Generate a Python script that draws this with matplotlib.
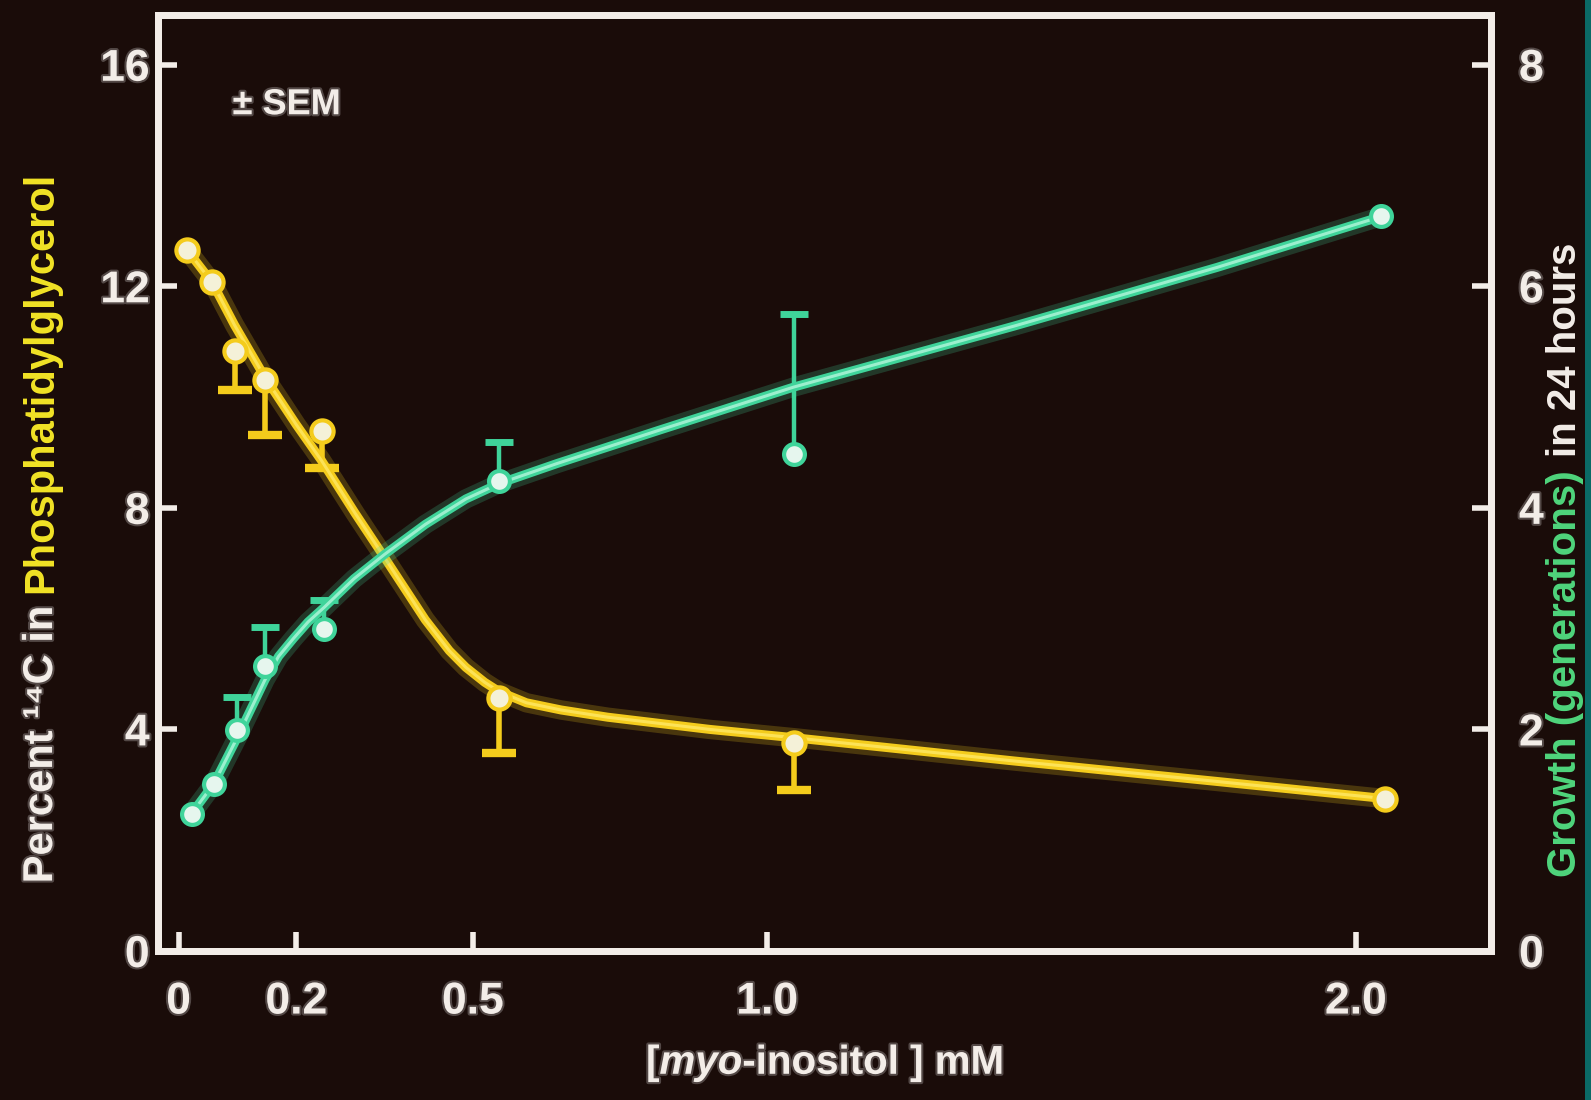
import numpy as np
import matplotlib
matplotlib.use("Agg")
import matplotlib.pyplot as plt
import matplotlib.patheffects as pe
from matplotlib.patches import Rectangle

# [myo-inositol] mM for each measurement
pg_conc = [0.014, 0.057, 0.095, 0.147, 0.243, 0.545, 1.045, 2.05]
growth_conc = [0.022, 0.06, 0.10, 0.147, 0.247, 0.545, 1.045, 2.043]

# percent 14C in phosphatidylglycerol (left axis), SEM drawn downwards
pg_pct = [12.66, 12.07, 10.83, 10.31, 9.39, 4.57, 3.76, 2.75]
pg_sem = [0, 0, 0.70, 1.00, 0.67, 1.00, 0.86, 0]

# growth (right axis), SEM drawn upwards
growth = [1.24, 1.51, 1.99, 2.57, 2.91, 4.24, 4.49, 6.63]
growth_sem = [0, 0, 0.30, 0.35, 0.26, 0.35, 1.26, 0]

# hand drawn fit curves
pg_fit_x = [0.014, 0.057, 0.095, 0.147, 0.20, 0.243, 0.30, 0.35, 0.419, 0.46, 0.488,
            0.52, 0.545, 0.591, 0.65, 0.729, 0.902, 1.045, 1.419, 1.764, 2.05]
pg_fit_y = [12.66, 12.07, 11.3, 10.35, 9.5, 8.85, 7.9, 7.1, 5.98, 5.42, 5.12,
            4.85, 4.68, 4.48, 4.35, 4.22, 4.0, 3.85, 3.43, 3.06, 2.75]
growth_fit_x = [0.022, 0.06, 0.10, 0.147, 0.17, 0.195, 0.22, 0.247, 0.298, 0.35, 0.419,
                0.488, 0.545, 0.643, 0.816, 1.045, 1.419, 1.764, 2.043]
growth_fit_y = [1.24, 1.51, 1.93, 2.45, 2.66, 2.82, 2.97, 3.10, 3.36, 3.58, 3.85,
                4.08, 4.22, 4.40, 4.70, 5.09, 5.64, 6.17, 6.63]

xticks = [0, 0.2, 0.5, 1.0, 2.0]
xticklabels = ["0", "0.2", "0.5", "1.0", "2.0"]
left_ticks = [0, 4, 8, 12, 16]
right_ticks = [0, 2, 4, 6, 8]

BG = "#1a0c09"
WHITE = "#f3ede8"
YELLOW = "#f4cc1c"
YELLOW_HI = "#ffe866"
GREEN = "#3fd49a"
GREEN_HI = "#b4f7dc"
LABEL_YELLOW = "#f2e326"
LABEL_GREEN = "#4fd57c"
FONT = ["Liberation Sans", "DejaVu Sans"]

plt.rcParams["font.family"] = FONT
plt.rcParams["font.weight"] = "bold"
plt.rcParams["mathtext.fontset"] = "custom"
plt.rcParams["mathtext.rm"] = "Liberation Sans:bold"
plt.rcParams["mathtext.it"] = "Liberation Sans:italic:bold"
plt.rcParams["mathtext.default"] = "rm"

glow = [pe.withStroke(linewidth=3, foreground="#ffffff", alpha=0.25)]

fig = plt.figure(figsize=(15.91, 11.0), dpi=100, facecolor=BG)
ax = fig.add_axes([0.0993, 0.1355, 0.838, 0.851], facecolor=BG)
ax2 = ax.twinx()

ax.set_xlim(-0.035, 2.23)
ax.set_ylim(0, 16.9)
ax2.set_ylim(0, 16.9 / 2)


def draw_curve(a, x, y, col, hi):
    a.plot(x, y, color=col, lw=14, alpha=0.22, solid_capstyle="round",
           solid_joinstyle="round", zorder=2)
    a.plot(x, y, color=col, lw=6.5, solid_capstyle="round", solid_joinstyle="round", zorder=3)
    a.plot(x, y, color=hi, lw=2.2, alpha=0.8, solid_capstyle="round",
           solid_joinstyle="round", zorder=4)


draw_curve(ax, pg_fit_x, pg_fit_y, YELLOW, YELLOW_HI)
draw_curve(ax2, growth_fit_x, growth_fit_y, GREEN, GREEN_HI)

# one sided error bars, only where a SEM was drawn
pg_idx = [i for i, s in enumerate(pg_sem) if s > 0]
pg_ex = [pg_conc[i] for i in pg_idx]
pg_lo = [pg_pct[i] - pg_sem[i] for i in pg_idx]
ax.vlines(pg_ex, pg_lo, [pg_pct[i] for i in pg_idx], color=YELLOW, lw=4, zorder=3)
ax.plot(pg_ex, pg_lo, "_", ms=24, mew=6, color=YELLOW, zorder=3)

gr_idx = [i for i, s in enumerate(growth_sem) if s > 0]
gr_ex = [growth_conc[i] for i in gr_idx]
gr_hi = [growth[i] + growth_sem[i] for i in gr_idx]
ax2.vlines(gr_ex, [growth[i] for i in gr_idx], gr_hi, color=GREEN, lw=3.2, zorder=3)
ax2.plot(gr_ex, gr_hi, "_", ms=20, mew=5, color=GREEN, zorder=3)

ax.plot(pg_conc, pg_pct, "o", ms=16, mfc="#f4f1d8", mec=YELLOW, mew=3, zorder=5)
ax2.plot(growth_conc, growth, "o", ms=15, mfc="#e6f6ee", mec=GREEN, mew=3, zorder=5)

for a in (ax, ax2):
    for sp in a.spines.values():
        sp.set_color(WHITE)
        sp.set_linewidth(5)

ax.set_xticks(xticks)
ax.set_xticklabels(xticklabels)
ax.set_yticks(left_ticks)
ax2.set_yticks(right_ticks)
ax.tick_params(axis="both", direction="in", length=14, width=4, color=WHITE,
               labelcolor=WHITE, labelsize=32)
ax.tick_params(axis="x", pad=22)
ax.tick_params(axis="y", pad=6)
ax2.tick_params(axis="y", direction="in", length=14, width=4, color=WHITE,
                labelcolor=WHITE, labelsize=32, pad=20)
for lab in ax.get_xticklabels() + ax.get_yticklabels() + ax2.get_yticklabels():
    lab.set_fontweight("bold")
    lab.set_path_effects(glow)

ax.set_xlabel(r"[$\mathit{myo}$-inositol ] mM", color=WHITE, fontsize=29,
              fontweight="bold", labelpad=14, path_effects=glow)

ax.text(0.056, 0.904, "± SEM", transform=ax.transAxes, color=WHITE, fontsize=26,
        fontweight="bold", ha="left", va="center", path_effects=glow)

# two coloured axis labels, second piece stacked on the first
fig.canvas.draw()
r = fig.canvas.get_renderer()
t1 = fig.text(0.0258, 0.197, "Percent ¹⁴C in", rotation=90, ha="center", va="bottom",
              color=WHITE, fontsize=30, fontweight="bold", path_effects=glow)
bb = t1.get_window_extent(r)
fig.text(0.0258, bb.y1 / fig.bbox.height + 0.012, "Phosphatidylglycerol", rotation=90,
         ha="center", va="bottom", color=LABEL_YELLOW, fontsize=30, fontweight="bold")

t3 = fig.text(0.9955, 0.203, "Growth (generations)", rotation=90, ha="right",
              va="bottom", color=LABEL_GREEN, fontsize=29, fontweight="bold")
bb = t3.get_window_extent(r)
fig.text(0.9955, bb.y1 / fig.bbox.height + 0.012, "in 24 hours", rotation=90,
         ha="right", va="bottom", color=WHITE, fontsize=29, fontweight="bold")
fig.patches.append(Rectangle((0.9965, 0), 0.01, 1, transform=fig.transFigure,
                             facecolor="#0b6a66", edgecolor="none", zorder=10))

fig.savefig("out.png", dpi=100, facecolor=BG)
